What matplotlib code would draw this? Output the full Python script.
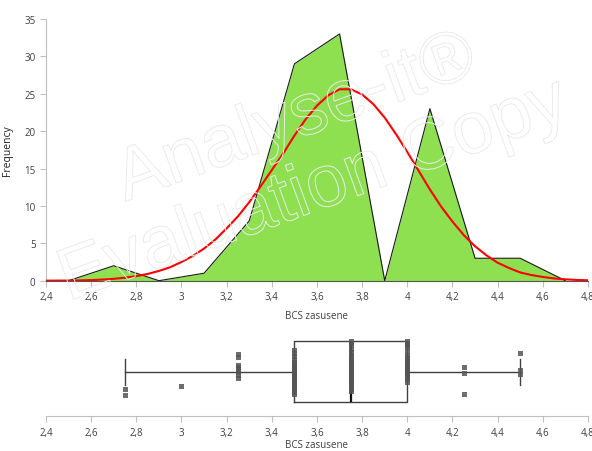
import numpy as np
import matplotlib
matplotlib.use("Agg")
import matplotlib.pyplot as plt
import matplotlib.patheffects as pe
from matplotlib.ticker import FuncFormatter

plt.rcParams['font.family'] = ['Open Sans', 'DejaVu Sans']

# ___ frequency polygon (bin centres, counts)
bin_centres = [2.5, 2.7, 2.9, 3.1, 3.3, 3.5, 3.7, 3.9, 4.1, 4.3, 4.5, 4.7]
bin_counts = [0, 2, 0, 1, 8, 29, 33, 0, 23, 3, 3, 0]

# ___ fitted normal curve
curve_x = [2.40, 2.45, 2.50, 2.55, 2.60, 2.65, 2.70, 2.75, 2.80, 2.85,
           2.90, 2.95, 3.00, 3.05, 3.10, 3.15, 3.20, 3.25, 3.30, 3.35,
           3.40, 3.45, 3.50, 3.55, 3.60, 3.65, 3.70, 3.75, 3.80, 3.85,
           3.90, 3.95, 4.00, 4.05, 4.10, 4.15, 4.20, 4.25, 4.30, 4.35,
           4.40, 4.45, 4.50, 4.55, 4.60, 4.65, 4.70, 4.75, 4.80]
curve_y = [0.00, 0.01, 0.02, 0.04, 0.08, 0.15, 0.25, 0.40, 0.60, 0.90,
           1.30, 1.80, 2.50, 3.30, 4.30, 5.50, 7.00, 8.60, 10.5, 12.6,
           14.8, 17.0, 19.4, 21.6, 23.4, 24.8, 25.6, 25.6, 24.9, 23.6,
           21.8, 19.6, 17.2, 14.7, 12.2, 9.9, 7.9, 6.1, 4.6, 3.4,
           2.4, 1.7, 1.1, 0.75, 0.5, 0.3, 0.18, 0.1, 0.05]

# ___ raw observations for the box plot
levels = [2.75, 3.0, 3.25, 3.5, 3.75, 4.0, 4.25, 4.5]
level_counts = [2, 1, 8, 29, 33, 23, 3, 3]
jitter = {
    2.75: [-0.57, -0.77],
    3.0: [-0.46],
    3.25: [0.58, 0.49, 0.22, 0.16, 0.09, -0.01, -0.11, -0.21],
    3.5: [0.72, 0.62, 0.52, 0.42, 0.32, 0.25, 0.19, 0.16, 0.12, 0.09,
          0.06, 0.02, 0.01, -0.01, -0.03, -0.04, -0.08, -0.11, -0.14,
          -0.17, -0.21, -0.24, -0.31, -0.37, -0.44, -0.50, -0.57, -0.67,
          -0.74],
    3.75: [1.01, 0.95, 0.88, 0.75, 0.65, 0.55, 0.49, 0.42, 0.35, 0.32,
           0.29, 0.25, 0.22, 0.19, 0.16, 0.12, 0.09, 0.06, 0.02, -0.01,
           -0.04, -0.08, -0.11, -0.14, -0.17, -0.21, -0.24, -0.31, -0.37,
           -0.44, -0.50, -0.57, -0.64],
    4.0: [1.01, 0.95, 0.88, 0.82, 0.68, 0.55, 0.49, 0.42, 0.35, 0.29,
          0.22, 0.19, 0.16, 0.12, 0.09, 0.06, 0.02, -0.01, -0.04, -0.11,
          -0.17, -0.24, -0.34],
    4.25: [0.16, -0.04, -0.74],
    4.5: [0.62, 0.06, -0.08],
}

xticks = [2.4, 2.6, 2.8, 3.0, 3.2, 3.4, 3.6, 3.8, 4.0, 4.2, 4.4, 4.6, 4.8]
xlim = (2.4, 4.8)

axis_grey = "#bfbfbf"
text_grey = "#404040"


def comma_fmt(v, pos):
    s = "{:g}".format(round(v, 2))
    return s.replace(".", ",")


def style_axis(ax):
    ax.set_xlim(xlim)
    ax.set_xticks(xticks)
    ax.xaxis.set_major_formatter(FuncFormatter(comma_fmt))
    for s in ("top", "right"):
        ax.spines[s].set_visible(False)
    ax.spines["bottom"].set_color(axis_grey)
    ax.spines["left"].set_color(axis_grey)
    ax.tick_params(axis="both", colors=axis_grey, labelcolor=text_grey,
                   labelsize=7, length=4, width=0.8, direction="out")


fig = plt.figure(figsize=(5.92, 4.52), dpi=100)

# ___ histogram / frequency polygon
ax1 = fig.add_axes([0.0777, 0.3768, 0.9155, 0.5790])
ax1.fill_between(bin_centres, bin_counts, 0, color="#8ee051", linewidth=0, zorder=2)
ax1.plot(bin_centres, bin_counts, color="#1a1a1a", linewidth=0.8, zorder=3)
ax1.plot(curve_x, curve_y, color="#ff0000", linewidth=1.5, zorder=4)
ax1.set_ylim(0, 35)
ax1.set_yticks(range(0, 36, 5))
style_axis(ax1)
ax1.spines["bottom"].set_color("#555555")
ax1.set_xlabel("BCS zasusene", fontsize=7, color=text_grey, labelpad=6)
ax1.set_ylabel("Frequency", fontsize=7.5, color="#222222", labelpad=8)

# ___ box plot with jittered points
ax2 = fig.add_axes([0.0777, 0.0768, 0.9155, 0.1820])
data = np.repeat(levels, level_counts)
ax2.boxplot(data, vert=False, positions=[0], widths=2.0, whis=(0, 100),
            showfliers=False, capwidths=0.86,
            boxprops=dict(color="#404040", linewidth=1.0),
            whiskerprops=dict(color="#404040", linewidth=1.0),
            capprops=dict(color="#404040", linewidth=1.0),
            medianprops=dict(color="#111111", linewidth=1.6))
for lev in levels:
    ys = jitter[lev]
    ax2.plot([lev] * len(ys), ys, linestyle="none", marker="s",
             markersize=3.6, color="#555555", alpha=0.85,
             markeredgewidth=0, zorder=5)
ax2.set_ylim(-1.47, 1.244)
ax2.set_yticks([])
style_axis(ax2)
ax2.spines["left"].set_visible(False)
ax2.set_xlabel("BCS zasusene", fontsize=7, color=text_grey, labelpad=1)

# ___ evaluation watermark
wm = dict(fontsize=53, color=(1, 1, 1, 0), rotation=20, ha="center",
          va="center", family="Liberation Sans", zorder=6,
          path_effects=[pe.Stroke(linewidth=0.7, foreground="#ebebeb")])
fig.text(0.50, 0.735, "Analyse-it®", **wm)
fig.text(0.53, 0.575, "Evaluation Copy", **wm)

fig.savefig("out.png", dpi=100)
